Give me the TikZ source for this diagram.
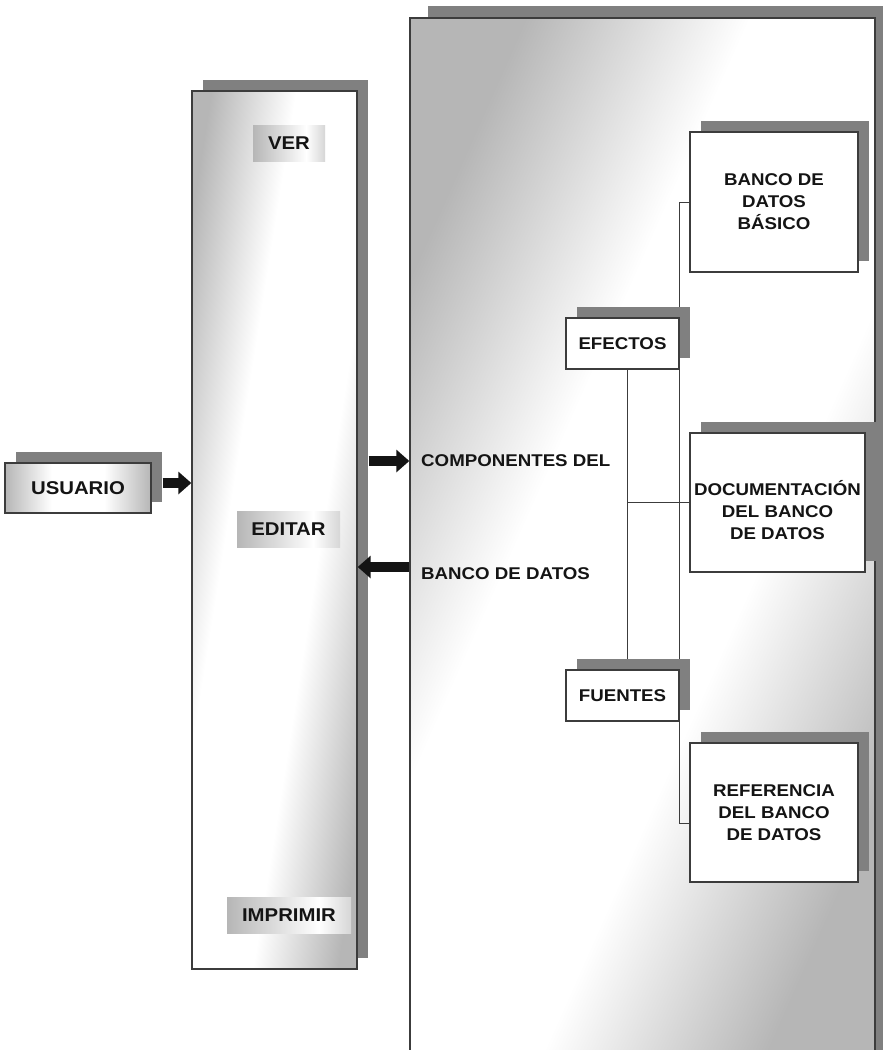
\documentclass[tikz,border=0pt]{standalone}
\usepackage{fontspec}
\setmainfont{Liberation Sans}[FakeStretch=1.1]
\usetikzlibrary{arrows.meta,shadows}
\definecolor{Ink}{RGB}{20,20,20}
\definecolor{Frame}{RGB}{60,60,60}
\definecolor{Shade}{RGB}{128,128,128}
\definecolor{Steel}{RGB}{182,182,182}
\definecolor{Mist}{RGB}{214,214,214}
\pgfdeclarehorizontalshading{sheen}{100bp}{color(0bp)=(Steel); color(25bp)=(Steel); color(41bp)=(white); color(59bp)=(white); color(75bp)=(Steel); color(100bp)=(Steel)}
\pgfdeclarehorizontalshading{glint}{100bp}{color(0bp)=(Steel); color(25bp)=(Steel); color(62bp)=(white); color(75bp)=(Mist); color(100bp)=(Mist)}
\pgfdeclarelayer{panels}
\pgfdeclarelayer{wires}
\pgfsetlayers{panels,wires,main}
\tikzset{
  >=Triangle,
  lbl/.style={font=\bfseries\fontsize{17}{22}\selectfont,text=Ink,align=center},
  biglbl/.style={font=\bfseries\fontsize{18.5}{22}\selectfont,text=Ink,align=center},
  boxshadow/.style={drop shadow={shadow xshift=#1,shadow yshift=#1,fill=Shade,opacity=1}},
  panel/.style={draw=Frame,line width=1.4pt,shading=sheen,inner sep=0pt},
  choice/.style={biglbl,shading=glint,inner sep=0pt,minimum height=36pt},
  part/.style={lbl,draw=Frame,line width=1.2pt,fill=white,inner sep=0pt,boxshadow=11pt},
  bigarrow/.style={-{Triangle[length=13pt,width=22pt]},line width=10pt,draw=Ink},
  wire/.style={draw=Frame,line width=1pt}
}
\begin{document}
\begin{tikzpicture}[x=1pt,y=-1pt]
  \useasboundingbox (0,0) rectangle (883,1050);
  \begin{pgfonlayer}{panels}
    \node[panel,shading angle=-24,drop shadow={shadow xshift=18pt,shadow yshift=12pt,fill=Shade,opacity=1},minimum width=465pt,minimum height=1052pt] (bank) at (642.5,544) {};
    \node[panel,shading angle=-9,boxshadow=11pt,minimum width=165pt,minimum height=878pt] (menu) at (274.5,530) {};
  \end{pgfonlayer}
  \node[panel,biglbl,boxshadow=11pt,shading angle=0,minimum width=146pt,minimum height=50pt] (usuario) at (78,488) {USUARIO};
  \node[choice,minimum width=72pt] (ver) at (289,143) {VER};
  \node[choice,minimum width=103pt] (editar) at (288.5,529) {EDITAR};
  \node[choice,minimum width=124pt] (imprimir) at (289,915) {IMPRIMIR};
  \node[lbl,anchor=west,inner sep=0pt] (comp) at (421,461) {COMPONENTES DEL};
  \node[lbl,anchor=west,inner sep=0pt] (bdd) at (421,574) {BANCO DE DATOS};
  \node[part,minimum width=113pt,minimum height=51pt] (efectos) at (622.5,343.5) {EFECTOS};
  \node[part,minimum width=113pt,minimum height=51pt] (fuentes) at (622.5,695.5) {FUENTES};
  \node[part,minimum width=168pt,minimum height=140pt] (basico) at (774,202) {BANCO DE\\DATOS\\BÁSICO};
  \node[part,minimum width=175pt,minimum height=139pt] (doc) at (777.5,502.5) {\rule{0pt}{31pt}DOCUMENTACIÓN\\DEL BANCO\\DE DATOS};
  \node[part,minimum width=168pt,minimum height=139pt] (ref) at (774,812.5) {REFERENCIA\\DEL BANCO\\DE DATOS};
  \coordinate (stem) at ([xshift=5pt]efectos.south);
  \coordinate (spine) at ([xshift=-10pt]basico.west);
  \begin{pgfonlayer}{wires}
    \draw[wire] (stem) -- (stem |- fuentes.north);
    \draw[wire] (doc.west) -- (doc.west -| stem);
    \draw[wire] (basico.west) -- (spine) |- ([yshift=-11pt]ref.west);
  \end{pgfonlayer}
  \draw[bigarrow] ([xshift=11pt,yshift=5pt]usuario.east) -- ([yshift=5pt]usuario.east -| menu.west);
  \draw[bigarrow] ([xshift=11pt]menu.east |- comp.west) -- (bank.west |- comp.west);
  \draw[bigarrow] ([yshift=7pt]bank.west |- bdd.west) -- ([yshift=7pt]menu.east |- bdd.west);
\end{tikzpicture}
\end{document}
